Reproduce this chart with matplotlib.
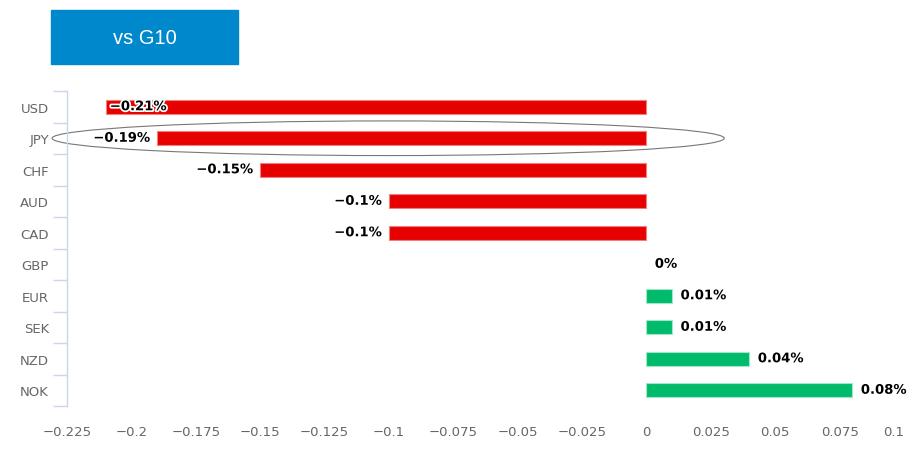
import numpy as np
import matplotlib.pyplot as plt
import matplotlib.patheffects as pe
from matplotlib.patches import Ellipse, Rectangle

currencies = ['USD', 'JPY', 'CHF', 'AUD', 'CAD', 'GBP', 'EUR', 'SEK', 'NZD', 'NOK']
values = [-0.21, -0.19, -0.15, -0.1, -0.1, 0.0, 0.01, 0.01, 0.04, 0.08]
xticks = [-0.225, -0.2, -0.175, -0.15, -0.125, -0.1, -0.075, -0.05, -0.025, 0, 0.025, 0.05, 0.075, 0.1]
xticklabels = ['\u22120.225', '\u22120.2', '\u22120.175', '\u22120.15', '\u22120.125', '\u22120.1',
               '\u22120.075', '\u22120.05', '\u22120.025', '0', '0.025', '0.05', '0.075', '0.1']

red = '#e60000'
green = '#00bb6b'
axis_col = '#ccd6eb'
text_col = '#666666'

fig = plt.figure(figsize=(9.21, 4.52), dpi=100)
ax = fig.add_axes([67 / 921, 45 / 452, 837 / 921, 315 / 452])

y = np.arange(len(currencies))
colors = [red if v < 0 else green for v in values]
edges = ['#f08080' if v < 0 else '#a0e8c8' for v in values]
widths = [0.8 if v != 0 else 0 for v in values]
ax.barh(y, values, height=0.46, color=colors, edgecolor=edges, linewidth=widths)

ax.set_xlim(-0.225, 0.1)
ax.set_ylim(len(currencies) - 0.5, -0.5)

ax.set_yticks(y)
ax.set_yticklabels(currencies, color=text_col, fontsize=9.5)
ax.set_yticks(np.arange(-0.5, len(currencies)), minor=True)
ax.tick_params(axis='y', which='major', length=0, pad=13)
ax.tick_params(axis='y', which='minor', length=10, color=axis_col, width=1)

ax.set_xticks(xticks)
ax.set_xticklabels(xticklabels, color=text_col, fontsize=9.5)
ax.get_xticklabels()[-1].set_horizontalalignment('right')
ax.tick_params(axis='x', length=0, pad=14)

for s in ['top', 'right', 'bottom']:
    ax.spines[s].set_visible(False)
ax.spines['left'].set_color(axis_col)
ax.spines['left'].set_linewidth(1)

halo = [pe.withStroke(linewidth=2.5, foreground='white')]
for i, v in enumerate(values):
    label = ('\u2212' if v < 0 else '') + f'{abs(v):g}%'
    if v < -0.2:
        off, ha = 3, 'left'
    elif v < 0:
        off, ha = -5, 'right'
    else:
        off, ha = 6, 'left'
    ax.annotate(label, (v, i), xytext=(off, 0), textcoords='offset points',
                ha=ha, va='center', fontsize=9.5, fontweight='bold',
                color='black', path_effects=halo)

# highlight JPY
ell = Ellipse((-0.1003, 1), 0.261, 1.1, fill=False, edgecolor='#777777',
              linewidth=0.8, clip_on=False)
ax.add_patch(ell)

# title box
fig.patches.append(Rectangle((51 / 921, 1 - 65 / 452), 187 / 921, 54 / 452,
                             transform=fig.transFigure, color='#0088cc', zorder=0))
fig.text(144.5 / 921, 1 - 38 / 452, 'vs G10', color='white', fontsize=14.5,
         family='Liberation Sans', ha='center', va='center')

fig.savefig('out.png', dpi=100)
